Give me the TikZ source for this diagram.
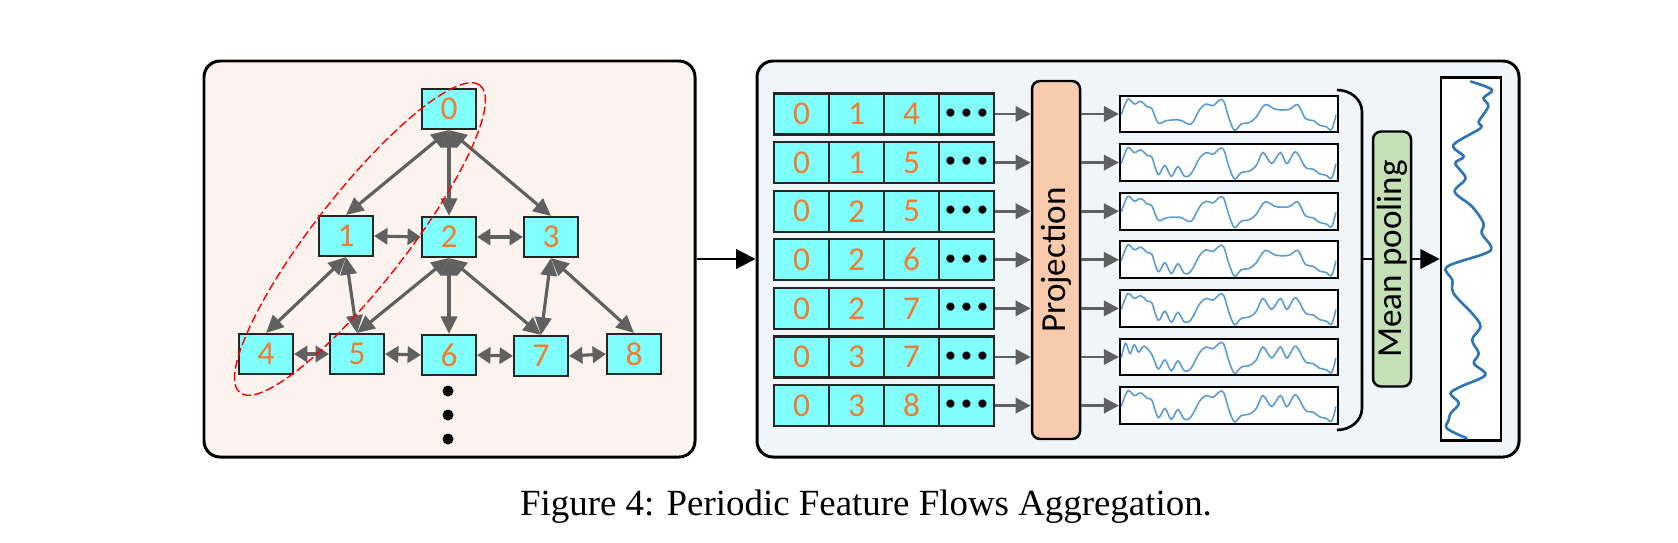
\documentclass[tikz,border=0pt]{standalone}
\usepackage{fontspec}
\setmainfont{Carlito}
\newfontfamily\captionfont{Liberation Serif}
\usetikzlibrary{arrows.meta}

\definecolor{nodecyan}{HTML}{80FFFF}
\definecolor{digit}{HTML}{ED7D31}
\definecolor{leftbg}{HTML}{FCF3EE}
\definecolor{rightbg}{HTML}{F0F5FA}
\definecolor{projfill}{HTML}{F8CBAD}
\definecolor{poolfill}{HTML}{C5E0B4}
\definecolor{linkgray}{HTML}{606060}
\definecolor{wavelight}{HTML}{5B9BD5}
\definecolor{wavedark}{HTML}{2E75B6}

% pieces of the small waves, in box units
\def\wstart{(0.01,0.5) (0.04,0.93) (0.07,0.8) (0.1,0.87) (0.13,0.72) (0.15,0.68)}
\def\wstartb{(0.01,0.5) (0.03,0.9) (0.05,0.62) (0.07,0.86) (0.09,0.66) (0.115,0.82) (0.15,0.6)}
\def\wlowa{(0.18,0.28) (0.22,0.35) (0.28,0.36) (0.33,0.25)}
\def\wlowb{(0.18,0.2) (0.21,0.45) (0.24,0.15) (0.27,0.42) (0.3,0.15) (0.33,0.22)}
\def\wmid{(0.37,0.65) (0.4,0.8) (0.43,0.75) (0.46,0.9) (0.48,0.88) (0.505,0.4) (0.53,0.08) (0.56,0.25) (0.6,0.3) (0.63,0.45)}
\def\whigha{(0.67,0.78) (0.72,0.65) (0.78,0.65) (0.82,0.78)}
\def\whighb{(0.66,0.8) (0.7,0.5) (0.74,0.8) (0.77,0.5) (0.81,0.82)}
\def\wend{(0.855,0.4) (0.89,0.35) (0.92,0.22) (0.95,0.18) (0.975,0.1) (0.995,0.5)}

\tikzset{
  panel/.style={draw, line width=0.85pt, rounded corners=0.16cm, inner sep=0pt},
  gnode/.style={draw=black!85, fill=nodecyan, text=digit, line width=0.6pt, font=\fontsize{9.5}{11}\selectfont,
    minimum width=0.54cm, minimum height=0.40cm, inner sep=0pt},
  cell/.style={gnode, minimum width=0.55cm, minimum height=0.41cm},
  link/.style={draw=linkgray, line width=0.9pt, {Triangle[length=#1,width=4.6pt]}-{Triangle[length=#1,width=4.6pt]}},
  link/.default=5pt,
  flow/.style={draw=linkgray, line width=0.85pt, -{Triangle[length=4.3pt,width=4.3pt]}},
  bigarrow/.style={line width=0.85pt, -{Triangle[length=5.5pt,width=5.5pt]}},
  wbox/.style={draw, fill=white, line width=0.55pt, minimum width=2.18cm, minimum height=0.367cm, inner sep=0pt},
  wave/.style={wavelight, line width=0.45pt},
}

\begin{document}
\begin{tikzpicture}
\useasboundingbox (0,0) rectangle (16.78,5.42);
\fill[white] (0,0) rectangle (16.78,5.42);

\node[panel, fill=leftbg, minimum width=4.91cm, minimum height=3.96cm] (left) at (4.495,2.83) {};
\node[panel, fill=rightbg, minimum width=7.62cm, minimum height=3.96cm] (right) at (11.38,2.83) {};
\draw[bigarrow] (left.east) -- (right.west);

% graph of lags
\foreach \n/\x/\y in {0/4.49/4.33, 1/3.46/3.06, 2/4.49/3.05, 3/5.51/3.05, 4/2.66/1.88,
    5/3.57/1.88, 6/4.49/1.87, 7/5.41/1.86, 8/6.34/1.88}
  \node[gnode] (g\n) at (\x,\y) {\n};
\foreach \a/\b in {0/1, 0/2, 0/3, 1/4, 1/5, 2/5, 2/6, 2/7, 3/7, 3/8}
  \draw[link] (g\a.south) -- (g\b.north);
\foreach \a/\b in {1/2, 2/3, 4/5, 5/6, 6/7, 7/8}
  \draw[link=3.8pt] (g\a.east) -- (g\b.west);
\foreach \y in {1.51,1.27,1.03}
  \fill (4.48,\y) circle (0.055);
\draw[red, dashed, line width=0.4pt, dash pattern=on 2.5pt off 1pt, rotate around={52:(3.6,3.03)}]
  (3.6,3.03) ellipse [x radius=1.95, y radius=0.46];

% flows
\node[draw, fill=projfill, line width=0.7pt, rounded corners=0.08cm, minimum width=0.48cm, minimum height=3.58cm,
  inner sep=0pt, font=\fontsize{10}{12}\selectfont] (proj) at (10.56,2.82) {\rotatebox{90}{Projection}};
\foreach \r/\a/\b/\s/\l/\h in {1/1/4/\wstart/\wlowa/\whigha, 2/1/5/\wstart/\wlowb/\whighb,
    3/2/5/\wstart/\wlowa/\whigha, 4/2/6/\wstart/\wlowb/\whigha, 5/2/7/\wstart/\wlowb/\whighb,
    6/3/7/\wstartb/\wlowb/\whighb, 7/3/8/\wstart/\wlowb/\whighb} {
  \node[cell] (p\r-1) at (8.015,{4.766-0.486*\r}) {0};
  \node[cell] (p\r-2) at (8.565,{4.766-0.486*\r}) {\a};
  \node[cell] (p\r-3) at (9.115,{4.766-0.486*\r}) {\b};
  \node[cell, text=black, font=\fontsize{6.5}{7}\selectfont] (p\r-4) at (9.665,{4.766-0.486*\r})
    {•\hspace{1.3pt}•\hspace{1.3pt}•};
  \node[wbox] (w\r) at (12.29,{4.766-0.486*\r}) {};
  \draw[flow] (p\r-4.east) -- (proj.west |- p\r-4);
  \draw[flow] (proj.east |- w\r) -- (w\r.west);
  \edef\wavepath{\noexpand\draw[wave, shift={(w\r.south west)}, x=2.18cm, y=0.367cm]
    plot[smooth, tension=0.55] coordinates {\s\l\wmid\h\wend};}
  \wavepath
}

% pooling
\draw[line width=0.75pt] (13.37,4.52) to[out=0,in=90] (13.62,4.30) -- (13.62,1.34) to[out=-90,in=0] (13.37,1.12);
\coordinate (brk) at (13.62,2.83);
\node[draw, fill=poolfill, line width=0.7pt, rounded corners=0.08cm, minimum width=0.38cm, minimum height=2.55cm,
  inner sep=0pt, font=\fontsize{10}{12}\selectfont] (pool) at (13.92,2.83) {\rotatebox{90}{Mean pooling}};
\draw[line width=0.85pt] (brk) -- (pool.west);
\node[draw, fill=white, line width=0.75pt, minimum width=0.6cm, minimum height=3.63cm, inner sep=0pt] (out) at (14.71,2.83) {};
\draw[bigarrow] (pool.east) -- (out.west);
\begin{scope}[shift={(out.south west)}, x=0.6cm, y=3.63cm]
  \draw[wavedark, line width=0.75pt] plot[smooth, tension=0.55] coordinates {(0.51,0.993) (0.87,0.97) (0.73,0.947)
    (0.81,0.924) (0.65,0.882) (0.68,0.864) (0.23,0.818) (0.4,0.786) (0.26,0.767) (0.43,0.726) (0.25,0.689)
    (0.54,0.648) (0.73,0.602) (0.7,0.574) (0.86,0.537) (0.76,0.519) (0.12,0.482) (0.21,0.446) (0.23,0.409)
    (0.54,0.354) (0.68,0.318) (0.54,0.281) (0.65,0.244) (0.57,0.216) (0.76,0.184) (0.35,0.152) (0.18,0.133)
    (0.32,0.106) (0.18,0.078) (0.15,0.06) (0.12,0.037) (0.46,0.009)};
\end{scope}

\node[anchor=base, font=\captionfont\fontsize{10.5}{12}\selectfont] (cap) at (8.66,0.27)
  {Figure 4: Periodic Feature Flows Aggregation.};
\end{tikzpicture}
\end{document}
